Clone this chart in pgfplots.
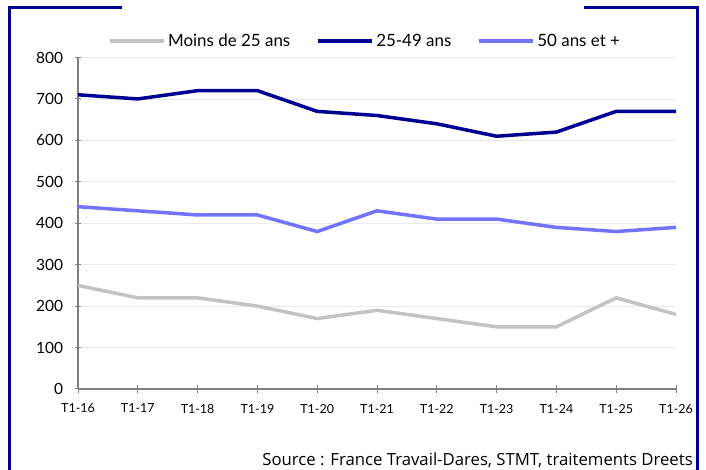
\documentclass[border=0pt]{standalone}
\usepackage{pgfplots}
\pgfplotsset{compat=1.18}
\usepackage{fontspec}
\setmainfont{Lato}
\newfontfamily\sourcefont{Open Sans}
\definecolor{cadre}{HTML}{000091}
\definecolor{navy}{HTML}{000091}
\definecolor{bleu}{HTML}{7373FF}
\definecolor{gris}{HTML}{C3C3C3}
\definecolor{axe}{HTML}{808080}
\definecolor{grille}{HTML}{EAEAEA}

% T1-16 ... T1-26
\pgfplotstableread{
x moins milieu plus
0  250 710 440
1  220 700 430
2  220 720 420
3  200 720 420
4  170 670 380
5  190 660 430
6  170 640 410
7  150 610 410
8  150 620 390
9  220 670 380
10 180 670 390
}\donnees

\begin{document}
\begin{tikzpicture}[x=1bp,y=1bp]
\path[use as bounding box] (0bp,0bp) rectangle (706bp,470bp);
% cadre
\draw[cadre,line width=3bp] (9.5bp,0bp) |- (122bp,462bp);
\draw[cadre,line width=3bp] (584bp,462bp) -| (697bp,0bp);

\begin{axis}[
  at={(78bp,81bp)}, anchor=south west,
  scale only axis, width=598bp, height=331.5bp,
  xmin=0, xmax=10, ymin=0, ymax=800,
  xtick={0,...,10},
  xticklabels={T1-16,T1-17,T1-18,T1-19,T1-20,T1-21,T1-22,T1-23,T1-24,T1-25,T1-26},
  ytick distance=100,
  axis x line*=bottom, axis y line*=left,
  axis line style={draw=axe, line width=1.2bp, -},
  tick style={draw=axe, line width=1bp},
  major tick length=7bp, tick align=center,
  ymajorgrids, grid style={draw=grille, line width=0.8bp},
  /pgf/number format/assume math mode=true,
  yticklabel style={font=\fontsize{15.5}{15.5}\selectfont, text=black, xshift=-8bp},
  xticklabel style={font=\fontsize{12.5}{12.5}\selectfont, text=black, yshift=-8bp},
  legend style={at={(0.05,1.05)}, anchor=west, draw=none, fill=none, inner sep=0pt,
    legend columns=3, font=\fontsize{17}{17}\selectfont,
    /tikz/every even column/.append style={column sep=24bp}},
  legend cell align=left,
  legend image code/.code={\draw[#1,line width=4bp] (0bp,0bp) -- (54bp,0bp);},
]
\addplot[gris, line width=3.5bp] table[x=x, y=moins] {\donnees};
\addplot[navy, line width=3.5bp] table[x=x, y=milieu] {\donnees};
\addplot[bleu, line width=3.5bp] table[x=x, y=plus] {\donnees};
\legend{Moins de 25 ans, 25-49 ans, 50 ans et +}
\end{axis}

\node[anchor=east, font=\sourcefont\fontsize{16.8}{16.8}\selectfont, inner sep=0pt] at (693bp,10bp) {Source : France Travail-Dares, STMT, traitements Dreets};
\end{tikzpicture}
\end{document}
